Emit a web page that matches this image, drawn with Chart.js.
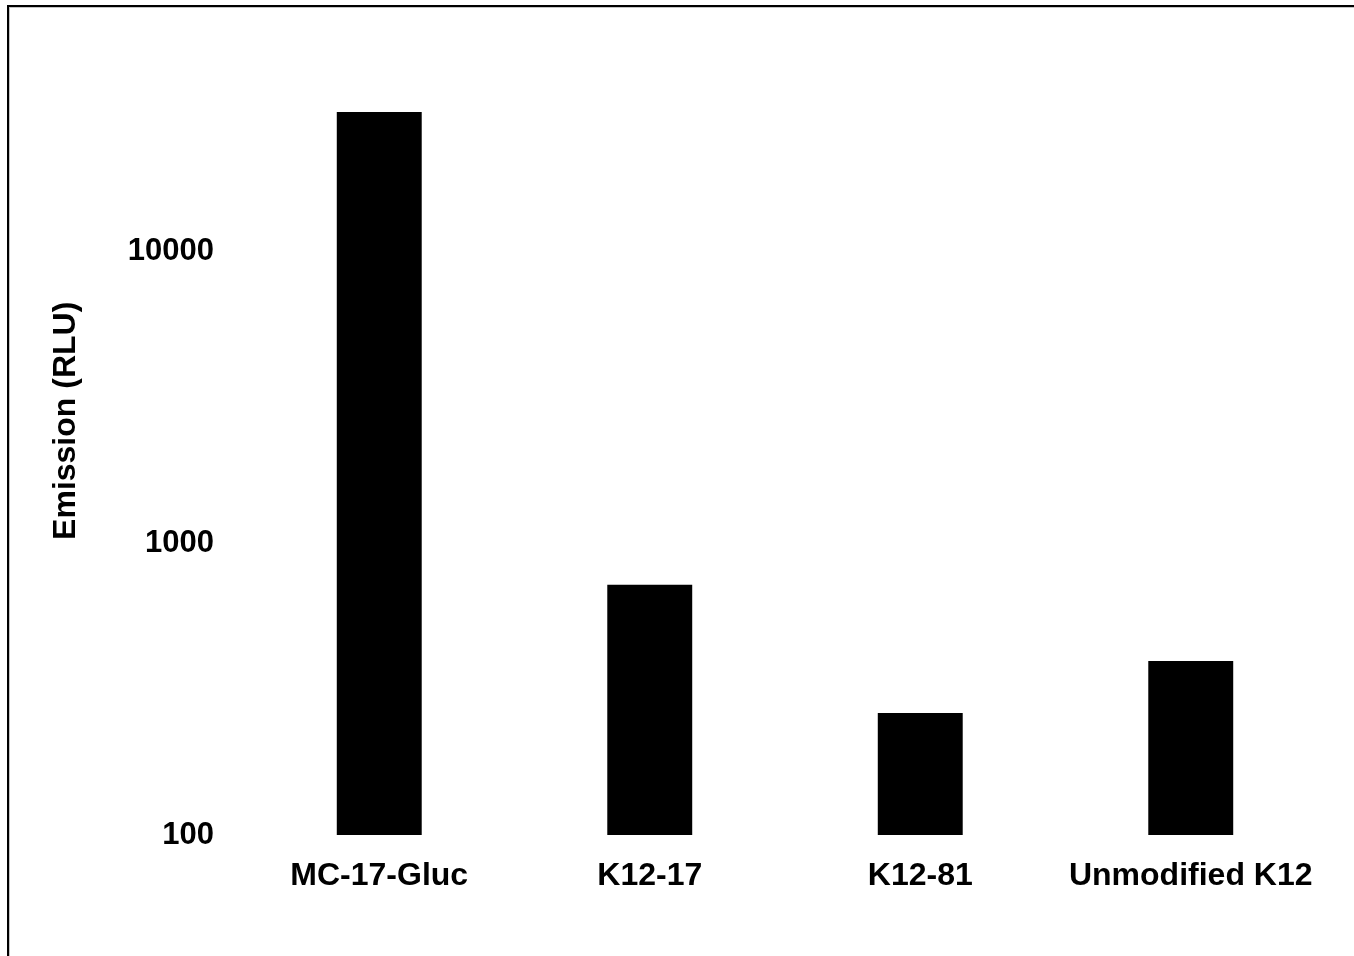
<!DOCTYPE html>
<html>
<head>
<meta charset="utf-8">
<script src="https://cdn.jsdelivr.net/npm/chart.js@4.4.1/dist/chart.umd.min.js"></script>
<style>
  html, body { margin: 0; padding: 0; background: #fff; overflow: hidden; }
  #wrap { position: relative; width: 1354px; height: 956px; }
  #chart { position: absolute; left: 0; top: 0; }
  .frame { position: absolute; left: 7px; top: 5px; width: 1400px; height: 1000px;
           border-left: 2px solid #000; border-top: 2px solid #000; pointer-events: none; }
  .frame-inner { position: absolute; left: 9px; top: 7px; width: 1400px; height: 1000px;
           border-left: 1px solid #c4c4c4; border-top: 1px solid #c4c4c4; pointer-events: none; }
</style>
</head>
<body>
<div id="wrap">
  <canvas id="chart" width="1354" height="956"></canvas>
  <div class="frame"></div>
  <div class="frame-inner"></div>
</div>
<script>
// Luminescence emission per strain (relative light units)
const categories = ['MC-17-Gluc', 'K12-17', 'K12-81', 'Unmodified K12'];
const emission = [30000, 720, 262, 395];
const yTickValues = [100, 1000, 10000];
const yTitle = 'Emission (RLU)';

const FONT = "'Liberation Sans', Arial, Helvetica, sans-serif";

// Vertical axis title, drawn a little above the plot's vertical middle
const yTitlePlugin = {
  id: 'yTitle',
  afterDraw(chart) {
    const { ctx, chartArea } = chart;
    ctx.save();
    ctx.font = `bold 32px ${FONT}`;
    ctx.fillStyle = '#000';
    ctx.textAlign = 'center';
    ctx.textBaseline = 'middle';
    ctx.translate(66, (chartArea.top + chartArea.bottom) / 2 - 21);
    ctx.rotate(-Math.PI / 2);
    ctx.fillText(yTitle, 0, 0);
    ctx.restore();
  }
};

new Chart(document.getElementById('chart'), {
  type: 'bar',
  data: {
    labels: categories,
    datasets: [{
      data: emission,
      backgroundColor: '#000',
      borderWidth: 0,
      categoryPercentage: 1,
      barPercentage: 0.314
    }]
  },
  plugins: [yTitlePlugin],
  options: {
    responsive: false,
    animation: false,
    devicePixelRatio: 1,
    layout: { padding: { top: 43, right: 28, left: 0, bottom: 0 } },
    plugins: { legend: { display: false }, tooltip: { enabled: false } },
    scales: {
      x: {
        grid: { display: false, drawTicks: false },
        border: { display: false },
        ticks: {
          color: '#000',
          padding: 22,
          maxRotation: 0,
          autoSkip: false,
          font: { family: FONT, size: 32, weight: 'bold' }
        },
        afterFit: s => { s.height = 121; }
      },
      y: {
        type: 'logarithmic',
        min: 100,
        max: 49500,
        grid: { display: false, drawTicks: false },
        border: { display: false },
        afterBuildTicks: s => { s.ticks = yTickValues.map(v => ({ value: v })); },
        afterFit: s => { s.width = 244; },
        ticks: {
          color: '#000',
          padding: 30,
          font: { family: FONT, size: 31, weight: 'bold' },
          callback: v => String(v)
        }
      }
    }
  }
});
</script>
</body>
</html>
